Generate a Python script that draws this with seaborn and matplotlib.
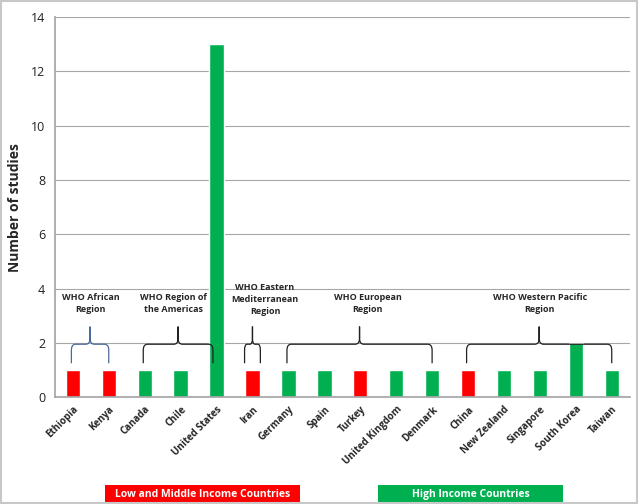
import matplotlib
matplotlib.use("Agg")
import matplotlib.pyplot as plt
import seaborn as sns
import pandas as pd
from matplotlib.path import Path
from matplotlib.patches import PathPatch, Rectangle

countries = ["Ethiopia", "Kenya", "Canada", "Chile", "United States", "Iran", "Germany",
             "Spain", "Turkey", "United Kingdom", "Denmark", "China", "New Zealand",
             "Singapore", "South Korea", "Taiwan"]
studies = [1, 1, 1, 1, 13, 1, 1, 1, 1, 1, 1, 1, 1, 1, 2, 1]
income = ["LMIC", "LMIC", "HIC", "HIC", "HIC", "LMIC", "HIC", "HIC", "LMIC", "HIC", "HIC",
          "LMIC", "HIC", "HIC", "HIC", "HIC"]
regions = ["WHO African\nRegion", "WHO Region of\nthe Americas",
           "WHO Eastern\nMediterranean\nRegion", "WHO European\nRegion",
           "WHO Western Pacific\nRegion"]
region_spans = [(0, 1), (2, 4), (5, 5), (6, 10), (11, 15)]
legend_labels = ["Low and Middle Income Countries", "High Income Countries"]

RED = "#FF0000"
GREEN = "#00B050"

sns.set_theme(style="white")
plt.rcParams["font.family"] = ["Open Sans", "DejaVu Sans"]

df = pd.DataFrame({"country": countries, "studies": studies, "income": income})

fig = plt.figure(figsize=(6.38, 5.04), dpi=100)
ax = fig.add_axes([0.086, 0.212, 0.901, 0.754])

sns.barplot(data=df, x="country", y="studies", hue="income", order=countries,
            palette={"LMIC": RED, "HIC": GREEN}, dodge=False, width=0.4,
            legend=False, ax=ax, saturation=1)

ax.set_xlim(-0.5, 15.5)
ax.set_ylim(0, 14)
ax.set_yticks(range(0, 15, 2))
ax.yaxis.grid(True, color="#a6a6a6", linewidth=0.8)
ax.set_axisbelow(True)
for s in ["top", "right"]:
    ax.spines[s].set_visible(False)
ax.spines["left"].set_color("#a6a6a6")
ax.spines["bottom"].set_color("#a6a6a6")
ax.set_xlabel("")
ax.set_ylabel("Number of studies", fontsize=10, fontweight="bold", labelpad=6)
ax.tick_params(axis="y", labelsize=9, colors="#222222", length=0, pad=7)
ax.tick_params(axis="x", length=0, pad=5)
ax.set_xticks(range(len(countries)))
ax.set_xticklabels(countries, rotation=45, ha="right", rotation_mode="anchor",
                   fontsize=7, fontweight="bold")


def brace(x0, x1, color, y_end=1.25, y_mid=1.95, y_tip=2.6, rx=0.12, ry=0.22):
    xm = (x0 + x1) / 2
    verts = [(x0, y_end), (x0, y_mid - ry), (x0, y_mid), (x0 + rx, y_mid),
             (xm - rx, y_mid), (xm, y_mid), (xm, y_mid + ry), (xm, y_tip),
             (xm, y_mid + ry), (xm, y_mid), (xm + rx, y_mid),
             (x1 - rx, y_mid), (x1, y_mid), (x1, y_mid - ry), (x1, y_end)]
    codes = [Path.MOVETO, Path.LINETO, Path.CURVE3, Path.CURVE3,
             Path.LINETO, Path.CURVE3, Path.CURVE3, Path.LINETO,
             Path.LINETO, Path.CURVE3, Path.CURVE3,
             Path.LINETO, Path.CURVE3, Path.CURVE3, Path.LINETO]
    ax.add_patch(PathPatch(Path(verts, codes), fill=False, edgecolor=color, linewidth=0.9))


brace_colors = ["#4a6a9a", "#222222", "#222222", "#222222", "#222222"]
for (a, b), c in zip(region_spans, brace_colors):
    if a == b:
        brace(a - 0.22, b + 0.22, c, rx=0.07)
    else:
        x0 = a - 0.04
        x1 = b - 0.1 if b == 4 else b
        brace(x0, x1, c)

label_pos = [(0.5, 3.45), (2.8, 3.45), (5.35, 3.6), (8.2, 3.45), (13.0, 3.45)]
for text, (x, y) in zip(regions, label_pos):
    ax.text(x, y, text, ha="center", va="center", fontsize=6.5, fontweight="bold",
            linespacing=1.45)

# legend boxes
for (x0, w, col), lab in zip([(105, 195, RED), (378, 185, GREEN)], legend_labels):
    fig.patches.append(Rectangle((x0 / 638, 0), w / 638, 19 / 504, transform=fig.transFigure,
                                 facecolor=col, edgecolor="none"))
    fig.text((x0 + w / 2) / 638, 9.5 / 504, lab, ha="center", va="center", color="white",
             fontsize=7.5, fontweight="bold")

fig.patches.append(Rectangle((0.002, 0.002), 0.996, 0.996, transform=fig.transFigure,
                             facecolor="none", edgecolor="#c8c8c8", linewidth=1.5))

fig.savefig("out.png", dpi=100)
